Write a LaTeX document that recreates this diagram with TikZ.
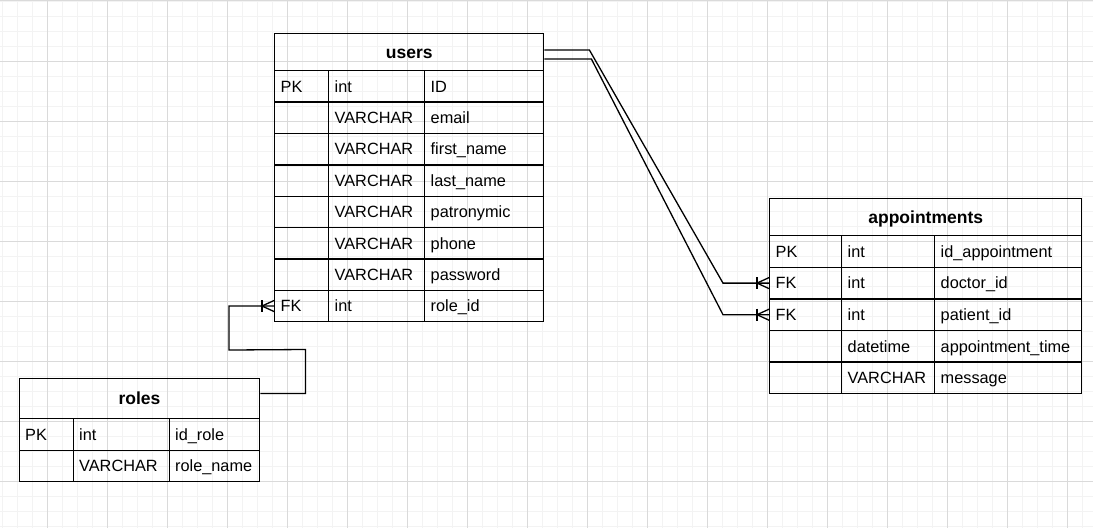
\documentclass[tikz,border=0pt]{standalone}
\usepackage{fontspec}
\setmainfont{Liberation Sans}
\usetikzlibrary{calc}

\definecolor{gridminor}{HTML}{F3F3F3}
\definecolor{gridmajor}{HTML}{DADADA}

\tikzset{
  cell/.style={draw=black, line width=1.4pt, anchor=north west, inner xsep=6pt,
    inner ysep=0pt, text height=13pt, text depth=1.3pt, align=left,
    font=\fontsize{16.3}{18}\selectfont},
  headcell/.style={draw=black, line width=1.4pt, anchor=north west, inner sep=0pt,
    text height=14pt, text depth=1.4pt, align=center,
    font=\fontsize{17.5}{20}\selectfont\bfseries},
  link/.style={draw=black, line width=1.3pt},
}

% one table row of three cells: name, x0, x1, x2, x3, top, height, key text, name text
% (the type text is taken from \rowtext)
\newcommand{\tabrow}[9]{%
  \pgfmathsetmacro{\wa}{#3-#2-12}\pgfmathsetmacro{\wb}{#4-#3-12}\pgfmathsetmacro{\wc}{#5-#4-12}%
  \node[cell, text width=\wa pt, minimum height=#7pt] (#1-a) at (#2,#6) {#8};
  \node[cell, text width=\wb pt, minimum height=#7pt] (#1-b) at (#3,#6) {\rowtext};
  \node[cell, text width=\wc pt, minimum height=#7pt] (#1-c) at (#4,#6) {#9};%
}
% crow's foot ("many") end drawn where a link meets a table from the left
\newcommand{\crowsfoot}[1]{%
  \draw[link] ($#1+(-12,-6)$) -- ($#1+(-12,6)$);
  \draw[link] ($#1+(0,-5.5)$) -- ($#1+(-12,0)$) -- ($#1+(0,5.5)$);%
}

\begin{document}
\begin{tikzpicture}[x=1pt,y=-1pt]
\useasboundingbox (0,0) rectangle (1093,528);
\fill[white] (0,0) rectangle (1093,528);

% background grid
\foreach \gx in {2.5,17.5,...,1093} \draw[gridminor, line width=1pt] (\gx,0) -- (\gx,528);
\foreach \gy in {1.5,16.5,...,528} \draw[gridminor, line width=1pt] (0,\gy) -- (1093,\gy);
\foreach \gx in {47.5,107.5,...,1093} \draw[gridmajor, line width=1pt] (\gx,0) -- (\gx,528);
\foreach \gy in {61.5,121.5,...,528} \draw[gridmajor, line width=1pt] (0,\gy) -- (1093,\gy);
\draw[gridmajor, line width=1.5pt] (0,0.5) -- (1093,0.5);

% users
\node[headcell, minimum width=269pt, minimum height=37pt] (users) at (274,33) {users};
\def\rowtext{int}\tabrow{u1}{274}{328}{424}{543}{70}{31.375}{PK}{ID}
\def\rowtext{VARCHAR}\tabrow{u2}{274}{328}{424}{543}{101.375}{31.375}{}{email}
\def\rowtext{VARCHAR}\tabrow{u3}{274}{328}{424}{543}{132.75}{31.375}{}{first\_name}
\def\rowtext{VARCHAR}\tabrow{u4}{274}{328}{424}{543}{164.125}{31.375}{}{last\_name}
\def\rowtext{VARCHAR}\tabrow{u5}{274}{328}{424}{543}{195.5}{31.375}{}{patronymic}
\def\rowtext{VARCHAR}\tabrow{u6}{274}{328}{424}{543}{226.875}{31.375}{}{phone}
\def\rowtext{VARCHAR}\tabrow{u7}{274}{328}{424}{543}{258.25}{31.375}{}{password}
\def\rowtext{int}\tabrow{u8}{274}{328}{424}{543}{289.625}{31.375}{FK}{role\_id}

% appointments
\node[headcell, minimum width=312pt, minimum height=37.5pt] (appt) at (769,197.5) {appointments};
\def\rowtext{int}\tabrow{a1}{769}{841}{934}{1081}{235}{31.6}{PK}{id\_appointment}
\def\rowtext{int}\tabrow{a2}{769}{841}{934}{1081}{266.6}{31.6}{FK}{doctor\_id}
\def\rowtext{int}\tabrow{a3}{769}{841}{934}{1081}{298.2}{31.6}{FK}{patient\_id}
\def\rowtext{datetime}\tabrow{a4}{769}{841}{934}{1081}{329.8}{31.6}{}{appointment\_time}
\def\rowtext{VARCHAR}\tabrow{a5}{769}{841}{934}{1081}{361.4}{31.6}{}{message}

% roles
\node[headcell, minimum width=240.5pt, minimum height=40.5pt] (roles) at (18.5,377.5) {roles};
\def\rowtext{int}\tabrow{r1}{18.5}{72.5}{168.5}{259}{418}{31.5}{PK}{id\_role}
\def\rowtext{VARCHAR}\tabrow{r2}{18.5}{72.5}{168.5}{259}{449.5}{31.5}{}{role\_name}

% users -> appointments.doctor_id
\coordinate (d0) at ($(users.north east)+(0,17)$);
\draw[link] (d0) -- ++(45,0) -- ($(a2-a.west)+(-46,0)$) -- (a2-a.west);
\crowsfoot{(a2-a.west)}
% users -> appointments.patient_id
\coordinate (p0) at ($(users.north east)+(0,26)$);
\draw[link] (p0) -- ++(47,0) -- ($(a3-a.west)+(-46,0)$) -- (a3-a.west);
\crowsfoot{(a3-a.west)}
% roles -> users.role_id
\coordinate (r0) at ($(roles.north east)+(0,16)$);
\draw[link] (r0) -- ++(45,0) -- ++(0,-44) -- ($(u8-a.west)+(-45,44)$) -- ($(u8-a.west)+(-45,0)$) -- (u8-a.west);
\crowsfoot{(u8-a.west)}
\end{tikzpicture}
\end{document}
